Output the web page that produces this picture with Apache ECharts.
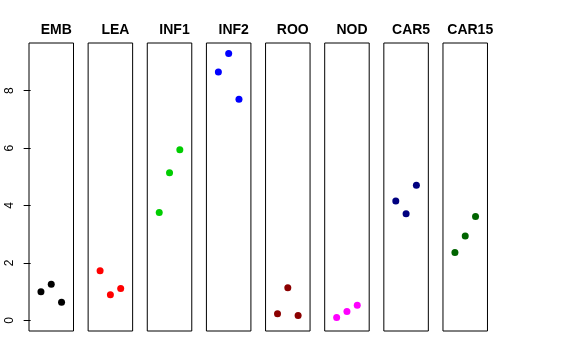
<!DOCTYPE html>
<html>
<head>
<meta charset="utf-8">
<script src="https://cdn.jsdelivr.net/npm/echarts@6/dist/echarts.min.js"></script>
<style>html,body{margin:0;padding:0;background:#fff}#c{width:576px;height:360px}</style>
</head>
<body>
<div id="c"></div>
<script>
var categories = ["EMB", "LEA", "INF1", "INF2", "ROO", "NOD", "CAR5", "CAR15"];
var colors = ["#000000", "#FF0000", "#00CD00", "#0000FF", "#8B0000", "#FF00FF", "#000080", "#006400"];
var values = [
  [1.00, 1.26, 0.63],
  [1.73, 0.89, 1.11],
  [3.76, 5.14, 5.94],
  [8.65, 9.29, 7.70],
  [0.23, 1.14, 0.17],
  [0.10, 0.31, 0.53],
  [4.16, 3.71, 4.71],
  [2.36, 2.94, 3.62]
];
var yTicks = [0, 2, 4, 6, 8];

var chart = echarts.init(document.getElementById('c'), null, {renderer: 'canvas'});
var grids = [], xAxes = [], yAxes = [], series = [], titles = [];
var step = 59.14, left0 = 29, w = 44.5;
categories.forEach(function (cat, i) {
  var l = left0 + step * i;
  grids.push({left: l, top: 43, width: w, height: 288, show: true, borderColor: '#000', borderWidth: 1, backgroundColor: 'transparent'});
  xAxes.push({type: 'value', gridIndex: i, min: -0.16, max: 4.16, show: false});
  yAxes.push({
    type: 'value', gridIndex: i, min: -0.37, max: 9.66, interval: 2,
    show: i === 0,
    axisLine: {show: false},
    splitLine: {show: false},
    axisTick: {show: true, length: 7, lineStyle: {color: '#000'}, customValues: yTicks},
    axisLabel: {show: true, rotate: 90, margin: 13, color: '#000', fontSize: 12, fontFamily: 'Liberation Sans, Arial, sans-serif', customValues: yTicks}
  });
  titles.push({
    text: cat, left: l + w / 2, top: 18, textAlign: 'center',
    textStyle: {fontSize: 14, fontWeight: 'bold', color: '#000', fontFamily: 'Liberation Sans, Arial, sans-serif'}
  });
  series.push({
    type: 'scatter', xAxisIndex: i, yAxisIndex: i, symbol: 'circle', symbolSize: 7,
    itemStyle: {color: colors[i], opacity: 1},
    data: values[i].map(function (v, j) { return [j + 1, v]; }),
    silent: true
  });
});
chart.setOption({
  animation: false,
  backgroundColor: '#fff',
  title: titles,
  grid: grids,
  xAxis: xAxes,
  yAxis: yAxes,
  series: series
});
</script>
</body>
</html>
